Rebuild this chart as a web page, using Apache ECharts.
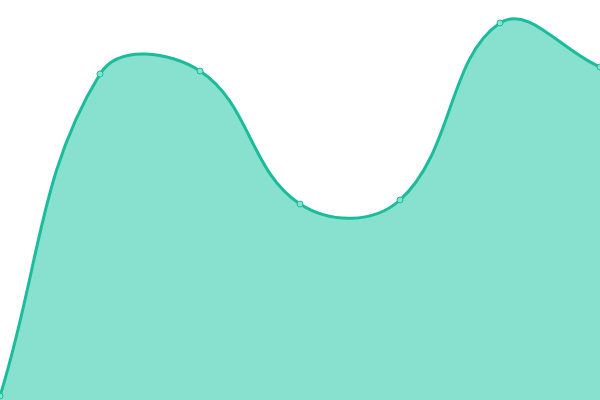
<!DOCTYPE html>
<html><head><meta charset="utf-8">
<script src="https://cdn.jsdelivr.net/npm/echarts@6/dist/echarts.min.js"></script>
<style>html,body{margin:0;padding:0;background:#fff}#c{width:600px;height:400px}</style>
</head><body><div id="c"></div>
<script>
const categories = ['A','B','C','D','E','F','G'];
const values = [4, 326, 329, 196, 200, 377, 333];
const TENSION = 0.4;

function smoothPath(pts, W, H) {
  // distance-weighted spline control points
  const cps = pts.map((p, i) => {
    const prev = pts[i - 1] || p, next = pts[i + 1] || p;
    const d01 = Math.hypot(p[0] - prev[0], p[1] - prev[1]);
    const d12 = Math.hypot(next[0] - p[0], next[1] - p[1]);
    let s01 = d01 / (d01 + d12), s12 = d12 / (d01 + d12);
    if (isNaN(s01)) s01 = 0; if (isNaN(s12)) s12 = 0;
    const fa = TENSION * s01, fb = TENSION * s12;
    const clamp = (x, y) => [Math.max(0, Math.min(W, x)), Math.max(0, Math.min(H, y))];
    return {
      prev: clamp(p[0] - fa * (next[0] - prev[0]), p[1] - fa * (next[1] - prev[1])),
      next: clamp(p[0] + fb * (next[0] - prev[0]), p[1] + fb * (next[1] - prev[1]))
    };
  });
  let d = 'M' + pts[0][0] + ' ' + pts[0][1];
  for (let i = 1; i < pts.length; i++) {
    const a = cps[i - 1].next, b = cps[i].prev, p = pts[i];
    d += ' C' + a[0] + ' ' + a[1] + ' ' + b[0] + ' ' + b[1] + ' ' + p[0] + ' ' + p[1];
  }
  return d;
}

const chart = echarts.init(document.getElementById('c'));
chart.setOption({
  animation:false,
  grid:{left:0,right:0,top:0,bottom:0},
  xAxis:{type:'category',data:categories,boundaryGap:false,show:false},
  yAxis:{type:'value',min:0,max:400,show:false},
  series:[{
    type:'custom',
    data:values.map((v,i)=>[i,v]),
    renderItem:function(params, api){
      if (params.dataIndex !== 0) return null;
      const pts = values.map((v,i)=>api.coord([i,v]));
      const line = smoothPath(pts, api.getWidth(), api.getHeight());
      const base0 = api.coord([0,0]);
      const base1 = api.coord([values.length-1,0]);
      const area = line + ' L' + base1[0] + ' ' + base1[1] + ' L' + base0[0] + ' ' + base0[1] + ' Z';
      return {type:'group',children:[
        {type:'path',shape:{pathData:area},style:{fill:'#88e0cf',stroke:null}},
        {type:'path',shape:{pathData:line},style:{fill:null,stroke:'#1abc9c',lineWidth:3}}
      ]};
    }
  },{
    type:'line',data:values,
    symbol:'circle',symbolSize:6,
    lineStyle:{opacity:0},
    itemStyle:{color:'#88e0cf',borderColor:'#1abc9c',borderWidth:1},
    z:5
  }]
});
</script></body></html>
